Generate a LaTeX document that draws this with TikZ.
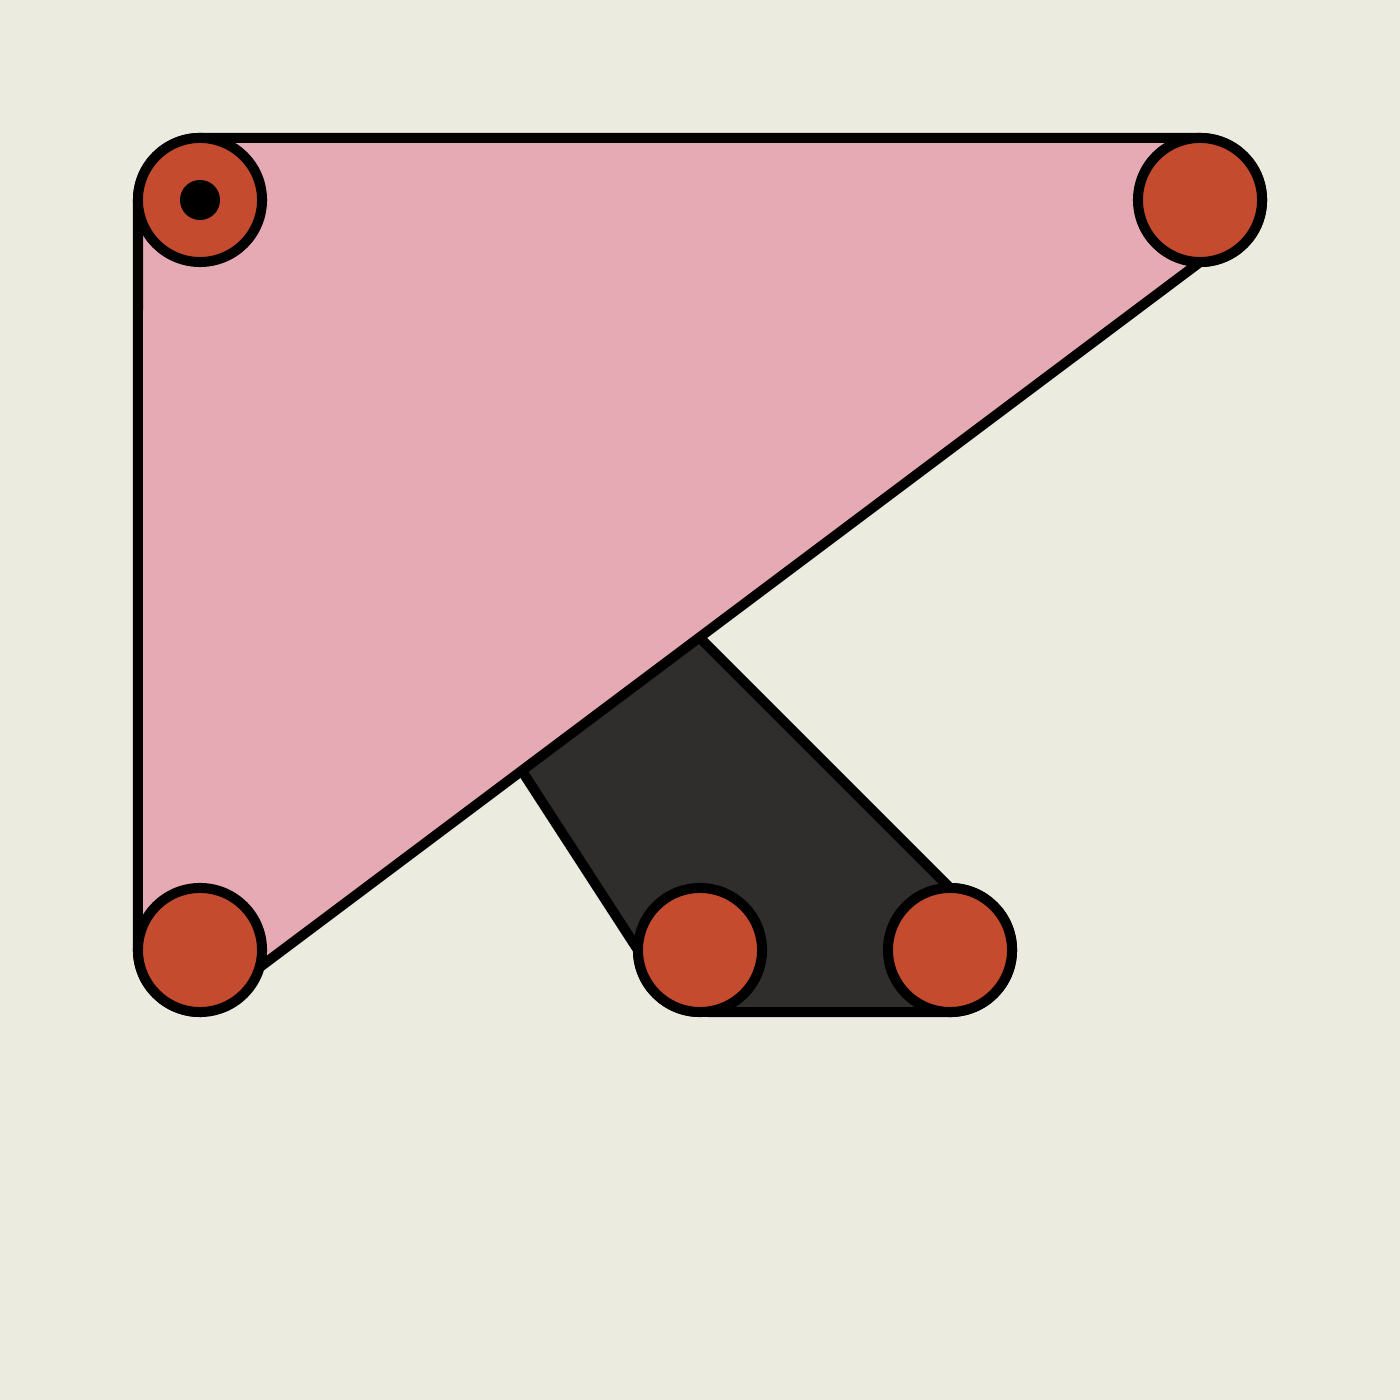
\documentclass[tikz,border=0pt]{standalone}
\begin{document}
\begin{tikzpicture}[x=0.01cm,y=0.01cm,
  outl/.style={draw=black,line width=0.1cm,line join=miter},
  joint/.style={circle,draw=black,fill=jointred,line width=0.1cm,minimum size=1.24cm,inner sep=0pt,outer sep=0pt},
  pin/.style={circle,fill=black,minimum size=0.4cm,inner sep=0pt}]
\definecolor{bg}{HTML}{EBEBDF}
\definecolor{pinkfill}{HTML}{E6AAB4}
\definecolor{darkfill}{HTML}{2F2E2C}
\definecolor{jointred}{HTML}{C54B2E}
\fill[bg] (0,0) rectangle (1400,1400);
\useasboundingbox (0,0) rectangle (1400,1400);
% dark link
\draw[outl,fill=darkfill] (690,772) -- (950,512) arc[start angle=90,end angle=-90,radius=0.62cm]
  -- (700,388) arc[start angle=270,end angle=180,radius=0.62cm] -- (450,740) -- cycle;
% pink triangle
\draw[outl,fill=pinkfill] (138,1200) arc[start angle=180,end angle=90,radius=0.62cm]
  -- (1200,1262) arc[start angle=90,end angle=-90,radius=0.62cm]
  -- (200,388) arc[start angle=270,end angle=180,radius=0.62cm] -- cycle;
% joints
\node[joint] (j1) at (200,1200) {};
\node[joint] (j2) at (1200,1200) {};
\node[joint] (j3) at (200,450) {};
\node[joint] (j4) at (700,450) {};
\node[joint] (j5) at (950,450) {};
\node[pin] (p1) at (j1.center) {};
\end{tikzpicture}
\end{document}
